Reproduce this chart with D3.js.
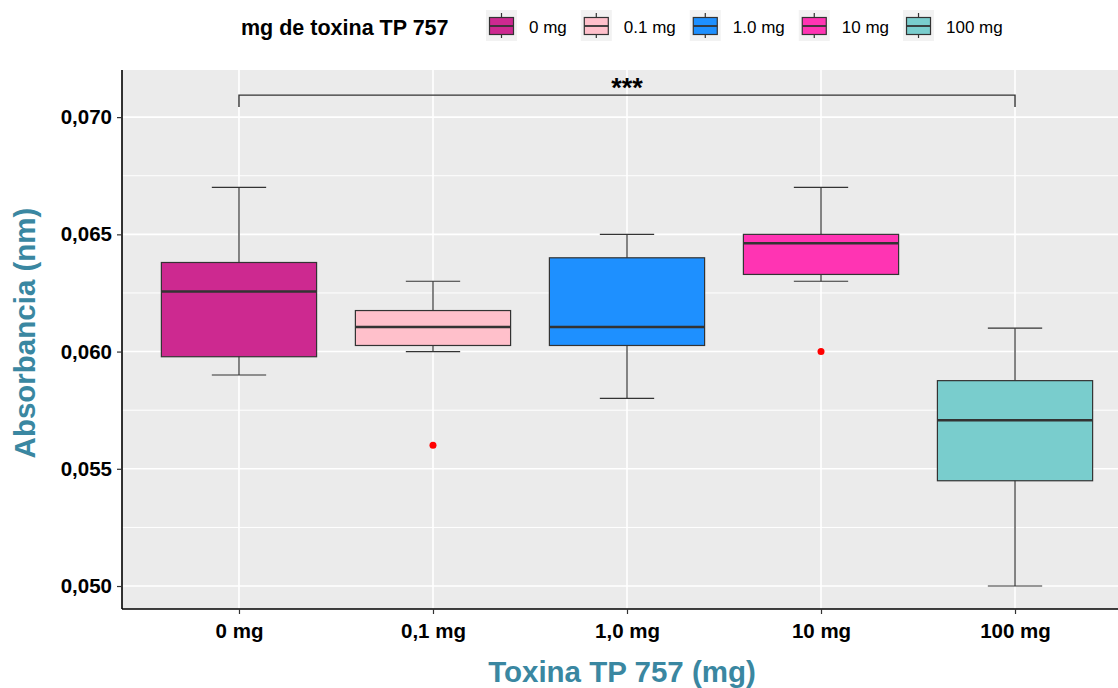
<!DOCTYPE html>
<html>
<head>
<meta charset="utf-8">
<script src="https://cdn.jsdelivr.net/npm/d3@7"></script>
<style>
  body { margin: 0; background: #fff; }
  svg { font-family: "Liberation Sans", Arial, sans-serif; }
</style>
</head>
<body>
<div id="chart"></div>
<script>
// data
var groups = ['0 mg', '0.1 mg', '1.0 mg', '10 mg', '100 mg']
var axisLabels = ['0 mg', '0,1 mg', '1,0 mg', '10 mg', '100 mg']
var colors = ['#CD2990', '#FFC0CB', '#1E90FF', '#FF34B3', '#79CDCD']
var whiskerLow = [0.0590, 0.0600, 0.0580, 0.0630, 0.0500]
var q1 = [0.05978, 0.06026, 0.06026, 0.06329, 0.05449]
var median = [0.06256, 0.06105, 0.06105, 0.06462, 0.05707]
var q3 = [0.06380, 0.06175, 0.06400, 0.06500, 0.05876]
var whiskerHigh = [0.0670, 0.0630, 0.0650, 0.0670, 0.0610]
var outliers = [[], [0.0560], [], [0.0600], []]
var yTicks = [0.050, 0.055, 0.060, 0.065, 0.070]
var yMinor = [0.0525, 0.0575, 0.0625, 0.0675]

var svgWidth = 1118
var svgHeight = 688
var margin = {top: 70, left: 122, right: 0, bottom: 79}
var width = svgWidth - margin.left - margin.right
var height = svgHeight - margin.top - margin.bottom

var svg = d3.select('#chart').append('svg')
    .attr('width', svgWidth)
    .attr('height', svgHeight)

var chartGroup = svg.append('g')
    .attr('transform', `translate(${margin.left},${margin.top})`)

// the panel is cut off a little on the right in the original
var xScale = d3.scalePoint()
    .domain(groups)
    .range([0, 1010])
    .padding(0.603)
var step = xScale.step()
var boxW = step * 0.8

var yScale = d3.scaleLinear()
    .domain([0.04902, 0.07201])
    .range([height, 0])

// panel
chartGroup.append('rect')
    .attr('width', width).attr('height', height)
    .attr('fill', '#EBEBEB')

chartGroup.selectAll('.minor').data(yMinor).enter().append('line')
    .attr('x1', 0).attr('x2', width)
    .attr('y1', d => yScale(d)).attr('y2', d => yScale(d))
    .attr('stroke', '#fff').attr('stroke-width', 1)
chartGroup.selectAll('.major').data(yTicks).enter().append('line')
    .attr('x1', 0).attr('x2', width)
    .attr('y1', d => yScale(d)).attr('y2', d => yScale(d))
    .attr('stroke', '#fff').attr('stroke-width', 1.6)
chartGroup.selectAll('.vgrid').data(groups).enter().append('line')
    .attr('x1', d => xScale(d)).attr('x2', d => xScale(d))
    .attr('y1', 0).attr('y2', height)
    .attr('stroke', '#fff').attr('stroke-width', 1.6)

// boxes
var box = chartGroup.selectAll('.box').data(groups).enter().append('g')
box.append('line')
    .attr('x1', d => xScale(d)).attr('x2', d => xScale(d))
    .attr('y1', (d, i) => yScale(whiskerLow[i])).attr('y2', (d, i) => yScale(whiskerHigh[i]))
    .attr('stroke', '#333').attr('stroke-width', 1.2)
box.append('line')
    .attr('x1', d => xScale(d) - step * 0.14).attr('x2', d => xScale(d) + step * 0.14)
    .attr('y1', (d, i) => yScale(whiskerLow[i])).attr('y2', (d, i) => yScale(whiskerLow[i]))
    .attr('stroke', '#333').attr('stroke-width', 1.2)
box.append('line')
    .attr('x1', d => xScale(d) - step * 0.14).attr('x2', d => xScale(d) + step * 0.14)
    .attr('y1', (d, i) => yScale(whiskerHigh[i])).attr('y2', (d, i) => yScale(whiskerHigh[i]))
    .attr('stroke', '#333').attr('stroke-width', 1.2)
box.append('rect')
    .attr('x', d => xScale(d) - boxW / 2)
    .attr('width', boxW)
    .attr('y', (d, i) => yScale(q3[i]))
    .attr('height', (d, i) => yScale(q1[i]) - yScale(q3[i]))
    .attr('fill', (d, i) => colors[i])
    .attr('stroke', '#333').attr('stroke-width', 1.2)
box.append('line')
    .attr('x1', d => xScale(d) - boxW / 2).attr('x2', d => xScale(d) + boxW / 2)
    .attr('y1', (d, i) => yScale(median[i])).attr('y2', (d, i) => yScale(median[i]))
    .attr('stroke', '#333').attr('stroke-width', 2.5)

groups.forEach(function(g, i) {
    outliers[i].forEach(function(v) {
        chartGroup.append('circle')
            .attr('cx', xScale(g)).attr('cy', yScale(v))
            .attr('r', 3.5).attr('fill', 'red')
    })
})

// significance bracket
var bracketY = yScale(0.07094)
var tickY = yScale(0.07043)
chartGroup.append('path')
    .attr('d', `M${xScale(groups[0])},${tickY}V${bracketY}H${xScale(groups[4])}V${tickY}`)
    .attr('fill', 'none').attr('stroke', '#333').attr('stroke-width', 1.4)
chartGroup.append('text')
    .attr('x', xScale(groups[2])).attr('y', bracketY + 2)
    .attr('text-anchor', 'middle')
    .style('font-size', '27px').style('font-weight', 'bold')
    .text('***')

// axes
var leftAxis = d3.axisLeft(yScale).tickValues(yTicks)
    .tickFormat(d => d3.format('.3f')(d).replace('.', ','))
    .tickSize(5).tickPadding(5)
var bottomAxis = d3.axisBottom(xScale)
    .tickFormat((d, i) => axisLabels[i])
    .tickSize(5).tickPadding(9)

var ya = chartGroup.append('g').call(leftAxis)
var xa = chartGroup.append('g').attr('transform', `translate(0,${height})`).call(bottomAxis)
;[ya, xa].forEach(function(a) {
    a.select('.domain').attr('stroke', '#000').attr('stroke-width', 1.6)
    a.selectAll('.tick line').attr('stroke', '#333').attr('stroke-width', 1.2)
    a.selectAll('.tick text').attr('fill', '#000')
        .style('font-size', '20.5px').style('font-weight', 'bold')
})
xa.select('.domain').attr('d', `M0,0H${width}`)
ya.select('.domain').attr('d', `M0,0V${height}`)

svg.append('text')
    .attr('transform', `translate(622,682)`)
    .attr('text-anchor', 'middle')
    .attr('fill', '#3A87A1')
    .style('font-size', '29.5px').style('font-weight', 'bold')
    .text('Toxina TP 757 (mg)')
svg.append('text')
    .attr('transform', `translate(35,${margin.top + 263}) rotate(-90)`)
    .attr('text-anchor', 'middle')
    .attr('fill', '#3A87A1')
    .style('font-size', '29.5px').style('font-weight', 'bold')
    .text('Absorbancia (nm)')

// legend
var legend = svg.append('g')
legend.append('text')
    .attr('x', 241).attr('y', 35)
    .style('font-size', '21.5px').style('font-weight', 'bold')
    .text('mg de toxina TP 757')
var kx = 486
groups.forEach(function(g, i) {
    var k = legend.append('g').attr('transform', `translate(${kx},10)`)
    k.append('rect').attr('width', 31).attr('height', 31).attr('fill', '#F2F2F2')
    k.append('line').attr('x1', 15.5).attr('x2', 15.5).attr('y1', 3).attr('y2', 28)
        .attr('stroke', '#333').attr('stroke-width', 1.2)
    k.append('rect').attr('x', 3.5).attr('y', 7.5).attr('width', 24).attr('height', 17)
        .attr('fill', colors[i]).attr('stroke', '#333').attr('stroke-width', 1.2)
    k.append('line').attr('x1', 3.5).attr('x2', 27.5).attr('y1', 16).attr('y2', 16)
        .attr('stroke', '#333').attr('stroke-width', 1.8)
    var t = legend.append('text')
        .attr('x', kx + 43).attr('y', 33)
        .style('font-size', '17px')
        .text(g)
    kx += 43 + t.node().getComputedTextLength() + 14
})
</script>
</body>
</html>
